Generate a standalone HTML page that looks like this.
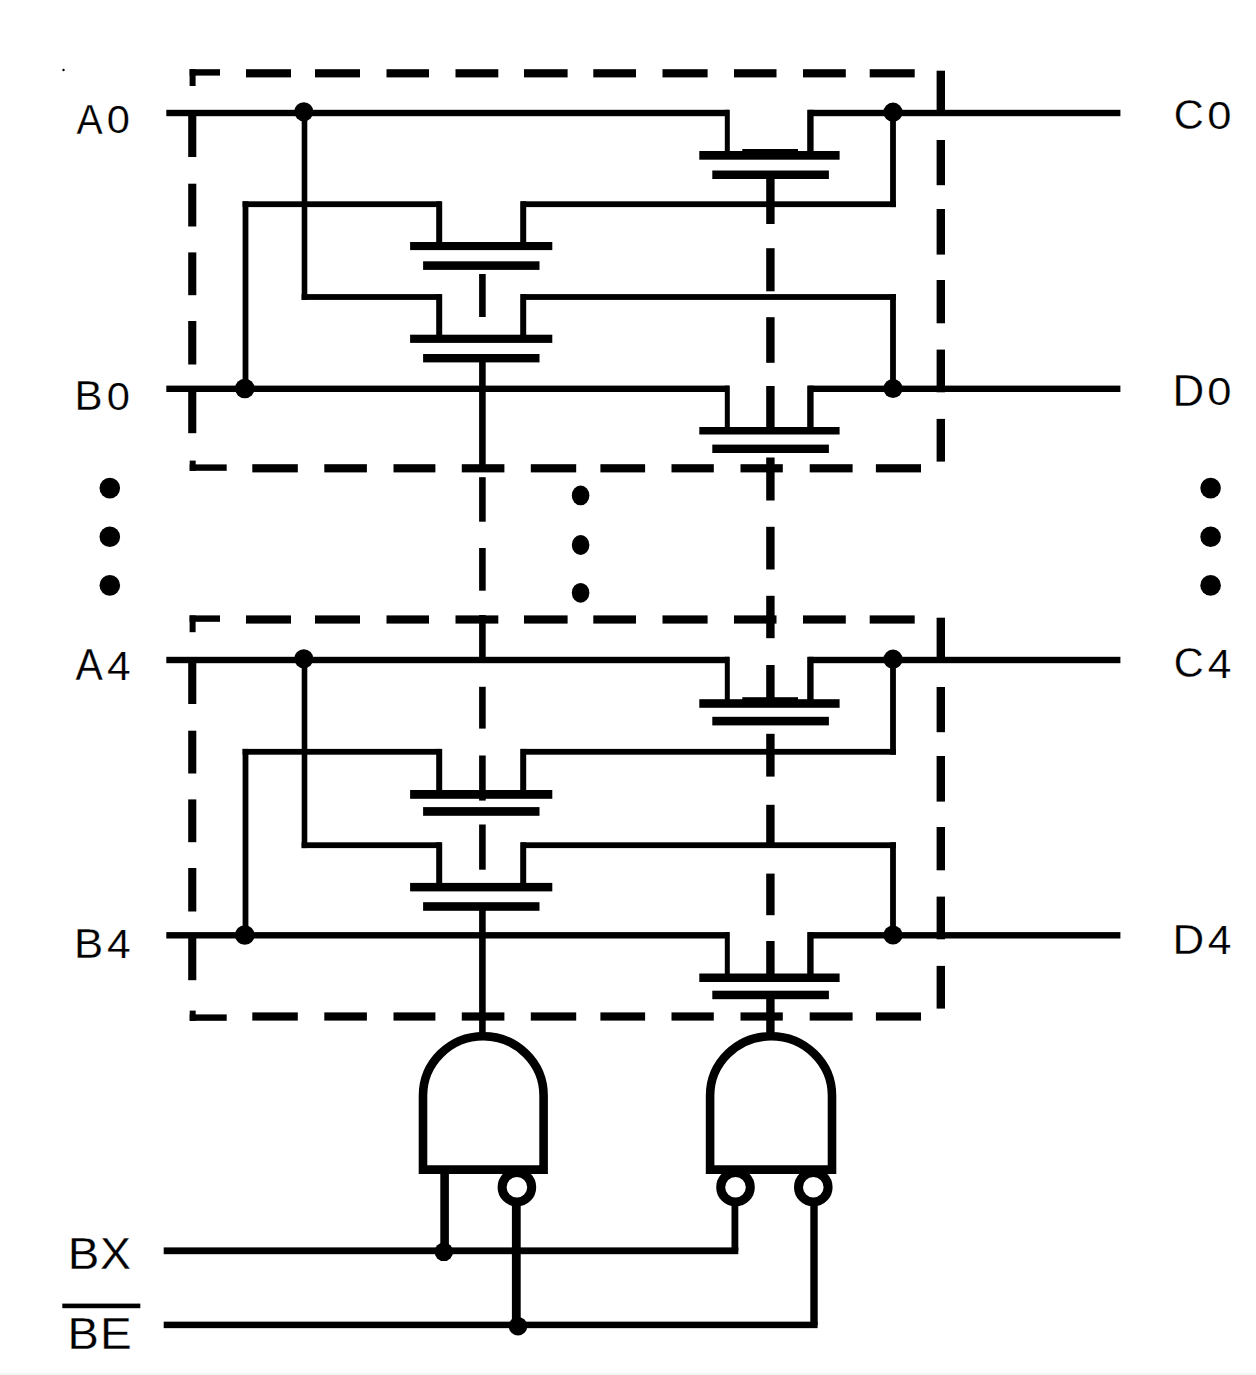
<!DOCTYPE html>
<html><head><meta charset="utf-8"><style>
html,body{margin:0;padding:0;background:#fff;}
body{width:1256px;height:1375px;overflow:hidden;position:relative;}
svg{position:absolute;left:0;top:0;}
text{font-family:"Liberation Sans",sans-serif;font-size:100px;fill:#000;stroke:#fff;stroke-width:0.6px;}
</style></head><body>
<svg width="1256" height="1375" viewBox="0 0 1256 1375">
<rect x="0" y="1373" width="1256" height="2" fill="#f6f6f6"/>
<g fill="#000">
<rect x="166.30" y="109.80" width="562.70" height="6.40"/>
<rect x="808.50" y="109.80" width="311.90" height="6.40"/>
<rect x="166.30" y="385.60" width="562.70" height="6.40"/>
<rect x="808.50" y="385.60" width="311.90" height="6.40"/>
<rect x="242.60" y="201.30" width="198.40" height="5.80"/>
<rect x="521.00" y="201.30" width="375.00" height="5.80"/>
<rect x="301.60" y="294.10" width="139.40" height="5.80"/>
<rect x="521.00" y="294.10" width="375.00" height="5.80"/>
<rect x="301.70" y="113.00" width="5.60" height="186.90"/>
<rect x="242.60" y="201.30" width="5.80" height="187.50"/>
<rect x="890.10" y="113.00" width="5.80" height="94.10"/>
<rect x="890.10" y="294.10" width="5.80" height="94.70"/>
<circle cx="303.80" cy="111.80" r="9.60"/>
<circle cx="893.00" cy="112.20" r="9.60"/>
<circle cx="244.80" cy="388.50" r="9.80"/>
<circle cx="893.00" cy="388.50" r="9.60"/>
<rect x="436.20" y="201.30" width="6.00" height="41.70"/>
<rect x="520.20" y="201.30" width="6.00" height="41.70"/>
<rect x="410.10" y="242.00" width="142.20" height="8.10"/>
<rect x="423.10" y="261.30" width="116.40" height="8.60"/>
<rect x="436.20" y="294.10" width="6.00" height="41.60"/>
<rect x="520.20" y="294.10" width="6.00" height="41.60"/>
<rect x="410.10" y="334.70" width="142.20" height="8.20"/>
<rect x="423.10" y="354.00" width="116.40" height="8.40"/>
<rect x="724.80" y="109.80" width="5.00" height="42.20"/>
<rect x="807.20" y="109.80" width="6.40" height="42.20"/>
<rect x="699.30" y="151.00" width="140.30" height="8.70"/>
<rect x="712.30" y="170.50" width="116.60" height="8.50"/>
<rect x="742.30" y="149.00" width="55.70" height="4.00"/>
<rect x="724.80" y="385.60" width="5.00" height="42.40"/>
<rect x="807.20" y="385.60" width="6.40" height="42.40"/>
<rect x="699.30" y="427.00" width="140.30" height="7.50"/>
<rect x="712.30" y="444.60" width="116.60" height="8.40"/>
<rect x="189.60" y="69.20" width="30.40" height="6.40"/>
<rect x="189.60" y="69.20" width="6.00" height="16.80"/>
<rect x="246.00" y="69.20" width="45.00" height="8.20"/>
<rect x="315.00" y="69.20" width="45.00" height="8.20"/>
<rect x="386.50" y="69.20" width="42.50" height="8.20"/>
<rect x="455.50" y="69.20" width="42.80" height="8.20"/>
<rect x="524.00" y="69.20" width="43.60" height="8.20"/>
<rect x="593.30" y="69.20" width="42.70" height="8.20"/>
<rect x="662.50" y="69.20" width="45.10" height="8.20"/>
<rect x="734.00" y="69.20" width="42.50" height="8.20"/>
<rect x="803.00" y="69.20" width="42.80" height="8.20"/>
<rect x="869.70" y="69.20" width="45.00" height="8.20"/>
<rect x="188.20" y="113.00" width="8.10" height="44.00"/>
<rect x="188.20" y="183.70" width="8.10" height="42.80"/>
<rect x="188.20" y="252.40" width="8.10" height="42.80"/>
<rect x="188.20" y="321.00" width="8.10" height="43.50"/>
<rect x="188.20" y="389.00" width="8.10" height="44.20"/>
<rect x="189.70" y="464.40" width="37.00" height="6.40"/>
<rect x="189.70" y="460.60" width="6.00" height="10.20"/>
<rect x="252.30" y="464.20" width="45.50" height="8.20"/>
<rect x="324.30" y="464.20" width="42.60" height="8.20"/>
<rect x="393.50" y="464.20" width="41.90" height="8.20"/>
<rect x="461.80" y="464.20" width="42.60" height="8.20"/>
<rect x="530.80" y="464.20" width="45.40" height="8.20"/>
<rect x="600.40" y="464.20" width="44.70" height="8.20"/>
<rect x="671.50" y="464.20" width="42.30" height="8.20"/>
<rect x="740.50" y="464.20" width="42.30" height="8.20"/>
<rect x="809.70" y="464.20" width="42.90" height="8.20"/>
<rect x="875.90" y="464.20" width="45.10" height="8.20"/>
<rect x="936.60" y="70.70" width="8.40" height="41.30"/>
<rect x="936.60" y="140.00" width="8.40" height="45.20"/>
<rect x="936.60" y="209.00" width="8.40" height="45.60"/>
<rect x="936.60" y="280.00" width="8.40" height="43.30"/>
<rect x="936.60" y="349.60" width="8.40" height="42.70"/>
<rect x="936.60" y="418.90" width="8.40" height="42.70"/>
<rect x="166.30" y="656.80" width="562.70" height="6.40"/>
<rect x="808.50" y="656.80" width="311.90" height="6.40"/>
<rect x="166.30" y="932.10" width="562.70" height="6.40"/>
<rect x="808.50" y="932.10" width="311.90" height="6.40"/>
<rect x="242.60" y="748.90" width="198.40" height="5.80"/>
<rect x="521.00" y="748.90" width="375.00" height="5.80"/>
<rect x="301.60" y="842.30" width="139.40" height="5.80"/>
<rect x="521.00" y="842.30" width="375.00" height="5.80"/>
<rect x="301.70" y="660.00" width="5.60" height="188.10"/>
<rect x="242.60" y="748.90" width="5.80" height="186.40"/>
<rect x="890.10" y="660.00" width="5.80" height="94.70"/>
<rect x="890.10" y="842.30" width="5.80" height="93.00"/>
<circle cx="303.80" cy="658.80" r="9.60"/>
<circle cx="893.00" cy="659.20" r="9.60"/>
<circle cx="244.80" cy="935.00" r="9.80"/>
<circle cx="893.00" cy="935.00" r="9.60"/>
<rect x="436.20" y="748.90" width="6.00" height="42.10"/>
<rect x="520.20" y="748.90" width="6.00" height="42.10"/>
<rect x="410.10" y="790.00" width="142.20" height="8.80"/>
<rect x="423.10" y="807.10" width="116.40" height="8.70"/>
<rect x="436.20" y="842.30" width="6.00" height="41.60"/>
<rect x="520.20" y="842.30" width="6.00" height="41.60"/>
<rect x="410.10" y="882.90" width="142.20" height="8.50"/>
<rect x="423.10" y="902.20" width="116.40" height="8.60"/>
<rect x="724.80" y="656.80" width="5.00" height="43.40"/>
<rect x="807.20" y="656.80" width="6.40" height="43.40"/>
<rect x="699.30" y="699.20" width="140.30" height="8.60"/>
<rect x="712.30" y="716.80" width="116.60" height="8.60"/>
<rect x="742.30" y="697.20" width="55.70" height="4.00"/>
<rect x="724.80" y="932.10" width="5.00" height="42.40"/>
<rect x="807.20" y="932.10" width="6.40" height="42.40"/>
<rect x="699.30" y="973.50" width="140.30" height="8.50"/>
<rect x="712.30" y="990.70" width="116.60" height="8.50"/>
<rect x="189.60" y="615.40" width="30.40" height="6.40"/>
<rect x="189.60" y="615.40" width="6.00" height="16.80"/>
<rect x="246.00" y="615.40" width="45.00" height="8.20"/>
<rect x="315.00" y="615.40" width="45.00" height="8.20"/>
<rect x="386.50" y="615.40" width="42.50" height="8.20"/>
<rect x="455.50" y="615.40" width="42.80" height="8.20"/>
<rect x="524.00" y="615.40" width="43.60" height="8.20"/>
<rect x="593.30" y="615.40" width="42.70" height="8.20"/>
<rect x="662.50" y="615.40" width="45.10" height="8.20"/>
<rect x="734.00" y="615.40" width="42.50" height="8.20"/>
<rect x="803.00" y="615.40" width="42.80" height="8.20"/>
<rect x="869.70" y="615.40" width="45.00" height="8.20"/>
<rect x="188.20" y="660.00" width="8.10" height="44.00"/>
<rect x="188.20" y="730.70" width="8.10" height="42.80"/>
<rect x="188.20" y="799.40" width="8.10" height="42.80"/>
<rect x="188.20" y="868.00" width="8.10" height="43.50"/>
<rect x="188.20" y="936.00" width="8.10" height="44.20"/>
<rect x="189.70" y="1014.40" width="37.00" height="6.40"/>
<rect x="189.70" y="1010.60" width="6.00" height="10.20"/>
<rect x="252.30" y="1012.40" width="45.50" height="8.20"/>
<rect x="324.30" y="1012.40" width="42.60" height="8.20"/>
<rect x="393.50" y="1012.40" width="41.90" height="8.20"/>
<rect x="461.80" y="1012.40" width="42.60" height="8.20"/>
<rect x="530.80" y="1012.40" width="45.40" height="8.20"/>
<rect x="600.40" y="1012.40" width="44.70" height="8.20"/>
<rect x="671.50" y="1012.40" width="42.30" height="8.20"/>
<rect x="740.50" y="1012.40" width="42.30" height="8.20"/>
<rect x="809.70" y="1012.40" width="42.90" height="8.20"/>
<rect x="875.90" y="1012.40" width="45.10" height="8.20"/>
<rect x="936.60" y="617.70" width="8.40" height="41.30"/>
<rect x="936.60" y="687.00" width="8.40" height="45.20"/>
<rect x="936.60" y="756.00" width="8.40" height="45.60"/>
<rect x="936.60" y="827.00" width="8.40" height="43.30"/>
<rect x="936.60" y="896.60" width="8.40" height="42.70"/>
<rect x="936.60" y="965.90" width="8.40" height="42.70"/>
<rect x="479.10" y="274.00" width="6.60" height="43.00"/>
<rect x="479.10" y="362.00" width="6.60" height="110.00"/>
<rect x="479.10" y="477.20" width="6.60" height="44.50"/>
<rect x="479.10" y="548.00" width="6.60" height="42.70"/>
<rect x="479.10" y="615.00" width="6.60" height="45.00"/>
<rect x="479.10" y="686.80" width="6.60" height="41.80"/>
<rect x="479.10" y="755.50" width="6.60" height="45.10"/>
<rect x="479.10" y="824.50" width="6.60" height="45.20"/>
<rect x="479.10" y="910.00" width="6.60" height="128.00"/>
<rect x="766.20" y="179.00" width="8.40" height="45.00"/>
<rect x="766.20" y="248.20" width="8.40" height="43.10"/>
<rect x="766.20" y="317.20" width="8.40" height="45.60"/>
<rect x="766.20" y="386.00" width="8.40" height="42.00"/>
<rect x="766.20" y="457.50" width="8.40" height="43.00"/>
<rect x="766.20" y="526.80" width="8.40" height="42.70"/>
<rect x="766.20" y="595.80" width="8.40" height="42.40"/>
<rect x="766.20" y="665.00" width="8.40" height="35.00"/>
<rect x="766.20" y="733.80" width="8.40" height="42.80"/>
<rect x="766.20" y="804.80" width="8.40" height="38.40"/>
<rect x="766.20" y="873.60" width="8.40" height="41.60"/>
<rect x="766.20" y="941.00" width="8.40" height="34.00"/>
<rect x="766.20" y="998.00" width="8.40" height="40.00"/>
<path d="M423.00,1169.60 L423.00,1095.70 A60.30,59.50 0 0 1 543.60,1095.70 L543.60,1169.60 Z" fill="none" stroke="#000" stroke-width="8.6" stroke-linejoin="miter"/>
<path d="M710.10,1169.60 L710.10,1095.70 A60.95,59.50 0 0 1 832.00,1095.70 L832.00,1169.60 Z" fill="none" stroke="#000" stroke-width="8.6" stroke-linejoin="miter"/>
<rect x="440.30" y="1170.00" width="8.60" height="81.00"/>
<rect x="511.90" y="1200.00" width="8.80" height="126.00"/>
<rect x="731.50" y="1200.00" width="6.80" height="51.00"/>
<rect x="810.30" y="1200.00" width="7.40" height="125.00"/>
<circle cx="516.90" cy="1187.20" r="14.80" fill="#fff" stroke="#000" stroke-width="9"/>
<circle cx="735.50" cy="1187.20" r="14.80" fill="#fff" stroke="#000" stroke-width="9"/>
<circle cx="813.30" cy="1187.20" r="14.80" fill="#fff" stroke="#000" stroke-width="9"/>
<rect x="163.70" y="1247.40" width="574.60" height="6.80"/>
<rect x="163.70" y="1321.65" width="653.90" height="6.50"/>
<circle cx="443.80" cy="1251.80" r="9.30"/>
<circle cx="518.00" cy="1326.20" r="9.30"/>
<circle cx="109.80" cy="488.10" r="10.30"/>
<circle cx="1210.60" cy="488.10" r="10.30"/>
<circle cx="109.80" cy="536.80" r="10.30"/>
<circle cx="1210.60" cy="536.80" r="10.30"/>
<circle cx="109.80" cy="585.40" r="10.30"/>
<circle cx="1210.60" cy="585.40" r="10.30"/>
<ellipse cx="580.6" cy="495.4" rx="8.8" ry="9.9"/>
<ellipse cx="580.6" cy="545" rx="8.8" ry="9.9"/>
<ellipse cx="580.6" cy="592.8" rx="8.8" ry="9.9"/>
<circle cx="63.50" cy="70.00" r="1.20"/>
</g>
<g>
<text transform="matrix(0.3924 0 0 0.4333 76.40 133.50)">A</text><text transform="matrix(0.4167 0 0 0.3887 106.83 133.11)">0</text><text transform="matrix(0.4208 0 0 0.4333 74.43 409.90)">B</text><text transform="matrix(0.4167 0 0 0.3930 106.83 409.51)">0</text><text transform="matrix(0.4091 0 0 0.4362 75.60 679.90)">A</text><text transform="matrix(0.4255 0 0 0.4147 107.05 680.31)">4</text><text transform="matrix(0.4377 0 0 0.4333 74.00 957.90)">B</text><text transform="matrix(0.4255 0 0 0.4103 107.05 958.31)">4</text><text transform="matrix(0.4143 0 0 0.4282 1173.83 128.87)">C</text><text transform="matrix(0.4354 0 0 0.3972 1207.26 128.90)">0</text><text transform="matrix(0.4390 0 0 0.4406 1172.59 405.70)">D</text><text transform="matrix(0.4354 0 0 0.3972 1207.26 405.30)">0</text><text transform="matrix(0.4143 0 0 0.4282 1173.83 677.17)">C</text><text transform="matrix(0.4255 0 0 0.4147 1207.65 678.31)">4</text><text transform="matrix(0.4390 0 0 0.4333 1172.59 953.90)">D</text><text transform="matrix(0.4255 0 0 0.4147 1207.65 954.31)">4</text><text transform="matrix(0.4736 0 0 0.4348 67.71 1268.90)">B</text><text transform="matrix(0.4639 0 0 0.4348 100.01 1268.90)">X</text><text transform="matrix(0.4698 0 0 0.4362 67.54 1348.90)">B</text><text transform="matrix(0.4759 0 0 0.4362 99.99 1348.90)">E</text>
</g>
<rect x="62.3" y="1303.6" width="78" height="4.6" fill="#000"/>
</svg>
</body></html>
